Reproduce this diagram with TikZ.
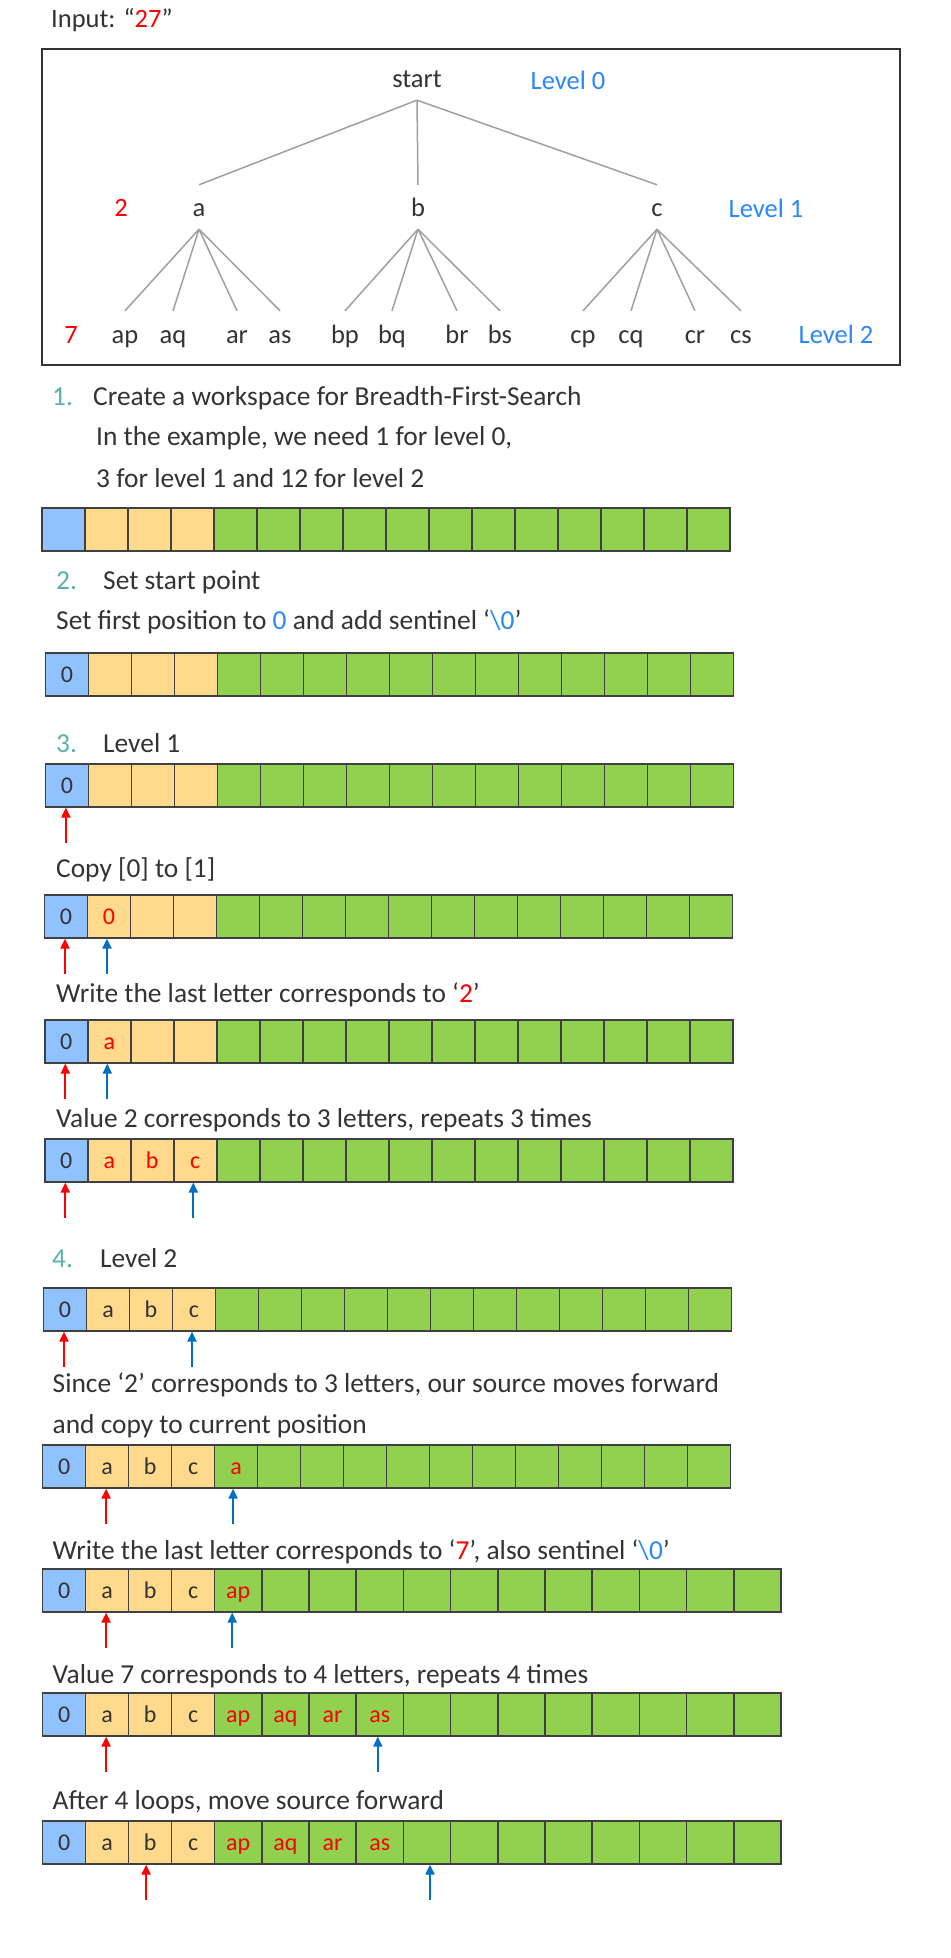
\documentclass[tikz,border=0pt]{standalone}
\usepackage{fontspec}
\setmainfont{Carlito}
\usetikzlibrary{calc,arrows.meta}
\definecolor{tcol}{HTML}{333333}
\definecolor{tealnum}{HTML}{5BB3A8}
\definecolor{lvlblue}{HTML}{2A88FF}
\definecolor{cblue}{HTML}{8FC2FF}
\definecolor{cyel}{HTML}{FFD98C}
\definecolor{cgreen}{HTML}{92D050}
\definecolor{bordercol}{HTML}{404040}
\definecolor{treegray}{HTML}{A0A0A0}
\definecolor{arrblue}{HTML}{0070C0}
\definecolor{ared}{HTML}{FF0000}
\tikzset{
  txt/.style={font=\fontsize{27.4}{32}\selectfont, text=tcol, inner sep=0pt, anchor=base west},
  numtxt/.style={txt, text=tealnum},
  tnode/.style={font=\fontsize{26.5}{32}\selectfont, text=tcol, inner sep=0pt, anchor=base, text height=32pt, text depth=12pt},
  tlabel/.style={font=\fontsize{26.5}{32}\selectfont, inner sep=0pt, anchor=base},
  treeline/.style={draw=treegray, line width=1.5pt},
  cellbox/.style={draw=bordercol, line width=1.6pt, minimum height=43pt, inner sep=0pt, anchor=north west},
  celltxt/.style={font=\fontsize{24}{28}\selectfont, text=tcol, inner sep=0pt, anchor=base, yshift=-8.5pt},
  redarr/.style={draw=ared, line width=2pt, -{Triangle[length=10pt,width=9pt]}},
  bluearr/.style={draw=arrblue, line width=2pt, -{Triangle[length=10pt,width=9pt]}},
}
\newcommand\R[1]{\textcolor{ared}{#1}}
\newcommand\B[1]{\textcolor{lvlblue}{#1}}
\newcommand\cellbar[4]{%
  \foreach \i in {0,...,15}{%
    \ifnum\i=0 \def\fc{cblue}\else\ifnum\i<4 \def\fc{cyel}\else\def\fc{cgreen}\fi\fi
    \ifnum\i<4 \pgfmathsetmacro\xx{#2+43*\i}\def\ww{43}\else\pgfmathsetmacro\xx{#2+172+#4*(\i-4)}\def\ww{#4}\fi
    \node[cellbox, fill=\fc, minimum width=\ww pt] (#1-\i) at (\xx,#3) {};
  }}
\newcommand\uparr[3]{\draw[#1] ($(#2.south)+(#3,35)$) -- ($(#2.south)+(#3,0)$);}
\begin{document}
\begin{tikzpicture}[x=1pt,y=-1pt]
\useasboundingbox (0,0) rectangle (950,1958);
\fill[white] (0,0) rectangle (950,1958);
% input
\node[txt, font=\fontsize{26.5}{32}\selectfont] (input) at (51,28) {Input: “\R{27}”};
% tree box
\node[draw=tcol, line width=1.8pt, minimum width=858pt, minimum height=316pt, inner sep=0pt, anchor=north west] (treebox) at (41,48) {};
\node[tnode] (start) at (417,88) {start};
\node[tnode] (na) at (199,217) {a};
\node[tnode] (nb) at (418,217) {b};
\node[tnode] (nc) at (657,217) {c};
\foreach \n/\x in {ap/125,aq/173,ar/237,as/280,bp/345,bq/392,br/457,bs/500,cp/583,cq/631,cr/695,cs/741}
  \node[tnode] (n\n) at (\x,343) {\n};
\draw[treeline] (start.south) -- (na.north);
\draw[treeline] (start.south) -- (nb.north);
\draw[treeline] (start.south) -- (nc.north);
\foreach \p in {a,b,c}{
  \foreach \q in {p,q,r,s}{
    \draw[treeline] (n\p.south) -- (n\p\q.north);
  }}
\node[tlabel, text=lvlblue] (lv0) at (568,89.5) {Level 0};
\node[tlabel, text=lvlblue] (lv1) at (766,218) {Level 1};
\node[tlabel, text=lvlblue] (lv2) at (836,343) {Level 2};
\node[tlabel, text=ared] (d2) at (121,217) {2};
\node[tlabel, text=ared] (d7) at (71,343) {7};
% step 1
\node[numtxt] (s1n) at (52,405) {1.};
\node[txt] (s1) at (93,405) {Create a workspace for Breadth-First-Search};
\node[txt] (s1b) at (96,445) {In the example, we need 1 for level 0,};
\node[txt] (s1c) at (96,487) {3 for level 1 and 12 for level 2};
\cellbar{b1}{41.2}{507}{43}
% step 2
\node[numtxt] (s2n) at (56,589) {2.};
\node[txt] (s2) at (103,589) {Set start point};
\node[txt] (s2b) at (56,629) {Set first position to \B{0} and add sentinel ‘\B{\textbackslash 0}’};
\cellbar{b2}{44.6}{652}{43}
\node[celltxt] (t2-0) at (b2-0) {0};
% step 3
\node[numtxt] (s3n) at (56,752) {3.};
\node[txt] (s3) at (103,752) {Level 1};
\cellbar{b3}{44.6}{763}{43}
\node[celltxt] (t3-0) at (b3-0) {0};
\uparr{redarr}{b3-0}{-1}
\node[txt] (s3b) at (56,877) {Copy [0] to [1]};
\cellbar{b4}{43.7}{894}{43}
\node[celltxt] (t4-0) at (b4-0) {0};
\node[celltxt] (t4-1) at (b4-1) {\R{0}};
\uparr{redarr}{b4-0}{-1}
\uparr{bluearr}{b4-1}{-2}
\node[txt] (s3c) at (56,1002) {Write the last letter corresponds to ‘\R{2}’};
\cellbar{b5}{44}{1019}{43}
\node[celltxt] (t5-0) at (b5-0) {0};
\node[celltxt] (t5-1) at (b5-1) {\R{a}};
\uparr{redarr}{b5-0}{-1}
\uparr{bluearr}{b5-1}{-2}
\node[txt] (s3d) at (56,1127) {Value 2 corresponds to 3 letters, repeats 3 times};
\cellbar{b6}{44}{1138}{43}
\node[celltxt] (t6-0) at (b6-0) {0};
\node[celltxt] (t6-1) at (b6-1) {\R{a}};
\node[celltxt] (t6-2) at (b6-2) {\R{b}};
\node[celltxt] (t6-3) at (b6-3) {\R{c}};
\uparr{redarr}{b6-0}{-1}
\uparr{bluearr}{b6-3}{-2}
% step 4
\node[numtxt] (s4n) at (52,1267) {4.};
\node[txt] (s4) at (100,1267) {Level 2};
\cellbar{b7}{42.7}{1287}{43}
\node[celltxt] (t7-0) at (b7-0) {0};
\node[celltxt] (t7-1) at (b7-1) {a};
\node[celltxt] (t7-2) at (b7-2) {b};
\node[celltxt] (t7-3) at (b7-3) {c};
\uparr{redarr}{b7-0}{-1}
\uparr{bluearr}{b7-3}{-2}
\node[txt] (s4b) at (52.5,1392) {Since ‘2’ corresponds to 3 letters, our source moves forward};
\node[txt] (s4c) at (52.5,1433) {and copy to current position};
\cellbar{b8}{41.8}{1444}{43}
\node[celltxt] (t8-0) at (b8-0) {0};
\node[celltxt] (t8-1) at (b8-1) {a};
\node[celltxt] (t8-2) at (b8-2) {b};
\node[celltxt] (t8-3) at (b8-3) {c};
\node[celltxt] (t8-4) at (b8-4) {\R{a}};
\uparr{redarr}{b8-1}{-1}
\uparr{bluearr}{b8-4}{-3}
\node[txt] (s4d) at (52.5,1559) {Write the last letter corresponds to ‘\R{7}’, also sentinel ‘\B{\textbackslash 0}’};
\cellbar{b9}{41.8}{1568}{47.2}
\node[celltxt] (t9-0) at (b9-0) {0};
\node[celltxt] (t9-1) at (b9-1) {a};
\node[celltxt] (t9-2) at (b9-2) {b};
\node[celltxt] (t9-3) at (b9-3) {c};
\node[celltxt] (t9-4) at (b9-4) {\R{ap}};
\uparr{redarr}{b9-1}{-1}
\uparr{bluearr}{b9-4}{-6}
\node[txt] (s4e) at (52.5,1683) {Value 7 corresponds to 4 letters, repeats 4 times};
\cellbar{b10}{41.8}{1692}{47.2}
\node[celltxt] (t10-0) at (b10-0) {0};
\node[celltxt] (t10-1) at (b10-1) {a};
\node[celltxt] (t10-2) at (b10-2) {b};
\node[celltxt] (t10-3) at (b10-3) {c};
\node[celltxt] (t10-4) at (b10-4) {\R{ap}};
\node[celltxt] (t10-5) at (b10-5) {\R{aq}};
\node[celltxt] (t10-6) at (b10-6) {\R{ar}};
\node[celltxt] (t10-7) at (b10-7) {\R{as}};
\uparr{redarr}{b10-1}{-1}
\uparr{bluearr}{b10-7}{-2}
\node[txt] (s4f) at (52.5,1809) {After 4 loops, move source forward};
\cellbar{b11}{41.8}{1820}{47.2}
\node[celltxt] (t11-0) at (b11-0) {0};
\node[celltxt] (t11-1) at (b11-1) {a};
\node[celltxt] (t11-2) at (b11-2) {b};
\node[celltxt] (t11-3) at (b11-3) {c};
\node[celltxt] (t11-4) at (b11-4) {\R{ap}};
\node[celltxt] (t11-5) at (b11-5) {\R{aq}};
\node[celltxt] (t11-6) at (b11-6) {\R{ar}};
\node[celltxt] (t11-7) at (b11-7) {\R{as}};
\uparr{redarr}{b11-2}{-4}
\uparr{bluearr}{b11-8}{3}
\end{tikzpicture}
\end{document}
